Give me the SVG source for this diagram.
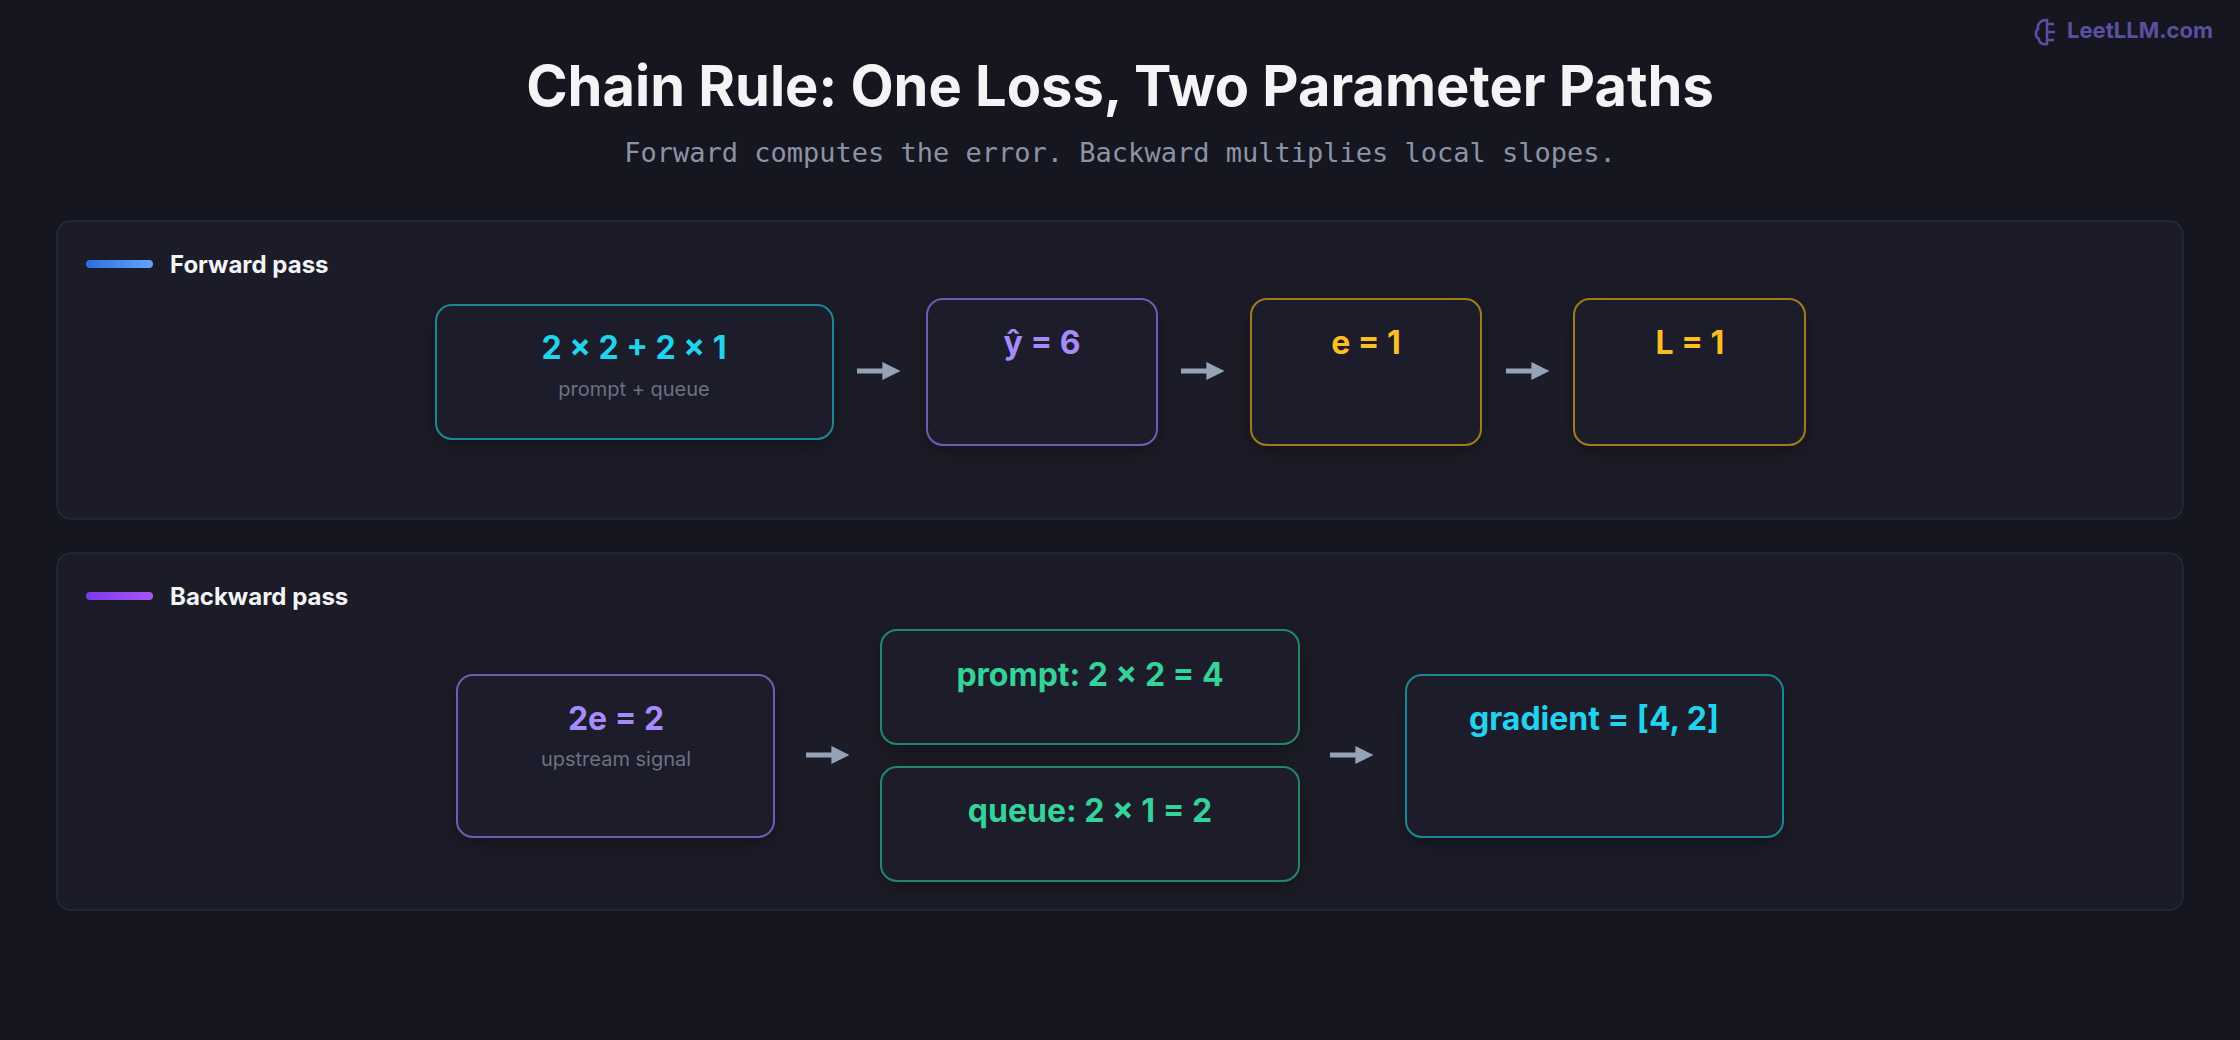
<svg xmlns="http://www.w3.org/2000/svg" width="2240" height="1040" viewBox="0 0 2240 1040">
<defs>
<style>
.t{font-family:Inter,"Noto Sans",sans-serif;font-weight:700;text-anchor:middle}
.s{font-family:Inter,"Noto Sans",sans-serif;font-size:20px;fill:#6b7280;text-anchor:middle}
.panel{fill:#1b1c27;stroke:#252b3a;stroke-width:1.5}
.node{fill:#1c1d29;stroke-width:2;filter:url(#sh)}
.lg{font-family:Inter,"Noto Sans",sans-serif;font-weight:700;font-size:24px;fill:#f3f4f6}
.ar{stroke:#94a3b8;stroke-width:5;fill:none}
</style>
<filter id="sh" x="-20%" y="-20%" width="140%" height="150%"><feDropShadow dx="0" dy="6" stdDeviation="10" flood-color="#000" flood-opacity="0.35"/></filter>
<linearGradient id="gb" x1="0" x2="1"><stop offset="0" stop-color="#2f6fe0"/><stop offset="1" stop-color="#60a5fa"/></linearGradient>
<linearGradient id="gp" x1="0" x2="1"><stop offset="0" stop-color="#7c3aed"/><stop offset="1" stop-color="#a855f7"/></linearGradient>
<marker id="ah" viewBox="0 0 10 10" refX="2" refY="5" markerWidth="3.6" markerHeight="4.8" orient="auto" markerUnits="strokeWidth"><path d="M0,0 L10,5 L0,10 z" fill="#94a3b8"/></marker>
</defs>
<rect width="2240" height="1040" fill="#15161f"/>
<g id="brand" fill="#5b4fa0">
<path d="M2046,20 c-6,0 -9,5 -8,9 c-3,2 -3,8 1,10 c0,4 4,6 8,5 l0,-24 z M2046,24 h8 M2046,32 h9 M2046,40 h8" stroke="#5b4fa0" stroke-width="2.5" fill="none"/>
<text x="2067" y="38" font-family="Inter,'Noto Sans',sans-serif" font-weight="700" font-size="22">LeetLLM.com</text>
</g>
<text x="1120" y="106" class="t" font-size="56" fill="#f3f4f6">Chain Rule: One Loss, Two Parameter Paths</text>
<text x="1120" y="162" font-family="'DejaVu Sans Mono','Liberation Mono',monospace" font-size="27" fill="#8b93a7" text-anchor="middle">Forward computes the error. Backward multiplies local slopes.</text>

<rect class="panel" x="57" y="221" width="2126" height="298" rx="14"/>
<rect x="86" y="260" width="67" height="8" rx="4" fill="url(#gb)"/>
<text class="lg" x="170" y="273">Forward pass</text>

<rect class="panel" x="57" y="553" width="2126" height="357" rx="14"/>
<rect x="86" y="592" width="67" height="8" rx="4" fill="url(#gp)"/>
<text class="lg" x="170" y="605">Backward pass</text>

<g id="f1"><rect class="node" x="436" y="305" width="397" height="134" rx="16" stroke="#1e8494"/>
<text class="t" x="634" y="359" font-size="32" fill="#22d3ee">2 x 2 + 2 x 1</text>
<text class="s" x="634" y="396">prompt + queue</text></g>
<g id="f2"><rect class="node" x="927" y="299" width="230" height="146" rx="16" stroke="#6d5bb0"/>
<text class="t" x="1042" y="354" font-size="32" fill="#a78bfa">ŷ = 6</text></g>
<g id="f3"><rect class="node" x="1251" y="299" width="230" height="146" rx="16" stroke="#a07a1f"/>
<text class="t" x="1366" y="354" font-size="32" fill="#fbbf24">e = 1</text></g>
<g id="f4"><rect class="node" x="1574" y="299" width="231" height="146" rx="16" stroke="#a07a1f"/>
<text class="t" x="1690" y="354" font-size="32" fill="#fbbf24">L = 1</text></g>

<g id="b1"><rect class="node" x="457" y="675" width="317" height="162" rx="16" stroke="#6d5bb0"/>
<text class="t" x="616" y="730" font-size="32" fill="#a78bfa">2e = 2</text>
<text class="s" x="616" y="766">upstream signal</text></g>
<g id="b2"><rect class="node" x="881" y="630" width="418" height="114" rx="16" stroke="#22876a"/>
<text class="t" x="1090" y="686" font-size="32" fill="#34d399">prompt: 2 x 2 = 4</text></g>
<g id="b3"><rect class="node" x="881" y="767" width="418" height="114" rx="16" stroke="#22876a"/>
<text class="t" x="1090" y="822" font-size="32" fill="#34d399">queue: 2 x 1 = 2</text></g>
<g id="b4"><rect class="node" x="1406" y="675" width="377" height="162" rx="16" stroke="#1e8494"/>
<text class="t" x="1594" y="730" font-size="32" fill="#22d3ee">gradient = [4, 2]</text></g>

<g id="connectors">
<line class="ar" x1="857" y1="371" x2="886" y2="371" marker-end="url(#ah)"/>
<line class="ar" x1="1181" y1="371" x2="1210" y2="371" marker-end="url(#ah)"/>
<line class="ar" x1="1506" y1="371" x2="1535" y2="371" marker-end="url(#ah)"/>
<line class="ar" x1="806" y1="755" x2="835" y2="755" marker-end="url(#ah)"/>
<line class="ar" x1="1330" y1="755" x2="1359" y2="755" marker-end="url(#ah)"/>
</g>
</svg>
